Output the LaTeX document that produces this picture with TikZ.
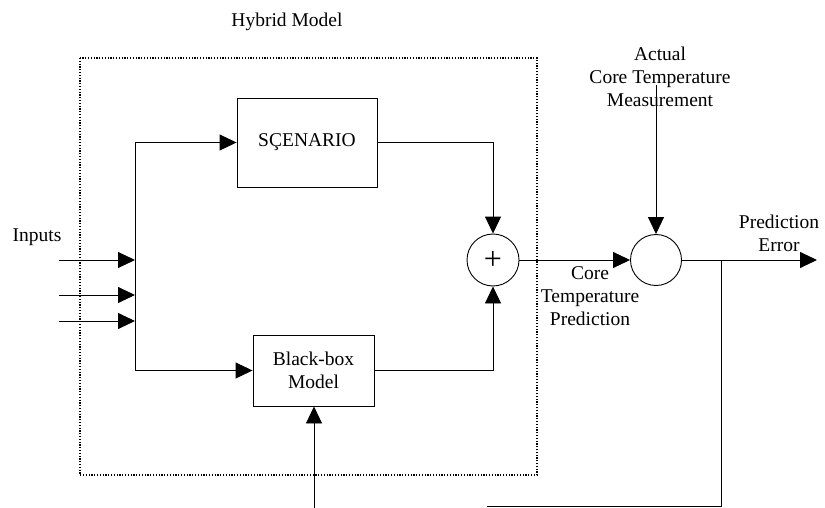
\documentclass[tikz,border=0pt]{standalone}
\usepackage{fontspec}
\setmainfont{Liberation Serif}
\usetikzlibrary{arrows.meta}
\begin{document}
\begin{tikzpicture}[x=1pt,y=-1pt,
  every node/.style={font=\fontsize{19.5}{23}\selectfont},
  wire/.style={line width=0.9pt},
  flow/.style={wire,-{Triangle[length=17pt,width=16pt]}},
  block/.style={draw,line width=0.9pt,inner sep=0pt},
  junction/.style={draw,circle,line width=0.9pt,inner sep=0pt,minimum size=52pt},
  frame/.style={line width=1.2pt,dash pattern=on 1.2pt off 1.6pt}]
\useasboundingbox (0,0) rectangle (825,508);

% hybrid model boundary
\draw[frame] (80,58) rectangle (537,475);
\node (hm) at (287,22) {Hybrid Model};

% blocks
\node[block,minimum width=140pt,minimum height=89pt] (scen) at (307,142.5) {SÇENARIO};
\node[block,minimum width=121pt,minimum height=71pt,align=center] (bb) at (313.5,370.5) {Black-box\\Model};
\node[junction] (sum) at (493,260) {\fontsize{32}{32}\selectfont +};
\node[junction,minimum size=51pt] (cmp) at (656,260) {};

% labels
\node (inp) at (37,237) {Inputs};
\node[align=center] (meas) at (660,77) {Actual\\Core Temperature\\Measurement};
\node[align=center] (pe) at (779,233) {Prediction\\Error};
\node[align=center] (ctp) at (590,296) {Core\\Temperature\\Prediction};

% inputs and distribution bus
\coordinate (in1) at (59,260);
\coordinate (in2) at (59,295);
\coordinate (in3) at (59,321);
\coordinate (b1) at (135,260);
\coordinate (b2) at (135,295);
\coordinate (b3) at (135,321);
\coordinate (btop) at (135,142.5);
\coordinate (bbot) at (135,370.5);
\draw[flow] (in1) -- (b1);
\draw[flow] (in2) -- (b2);
\draw[flow] (in3) -- (b3);
\draw[wire] (btop) -- (bbot);
\draw[flow] (btop) -- (scen.west);
\draw[flow] (bbot) -- (bb.west);

% model outputs into the summing junction
\draw[flow] (scen.east) -| (sum.north);
\draw[flow] (bb.east) -| (sum.south);

% prediction vs. measurement
\draw[flow] (sum.east) -- (cmp.west);
\coordinate (mtop) at (656,85);
\draw[flow] (mtop) -- (cmp.north);
\coordinate (out) at (817,260);
\draw[flow] (cmp.east) -- (out);

% error feedback
\coordinate (fb1) at (721,260);
\coordinate (fb2) at (721,506);
\coordinate (fb3) at (487,506);
\draw[wire] (fb1) -- (fb2) -- (fb3);
\coordinate (bin) at (314,508);
\draw[flow] (bin) -- (bin |- bb.south);
\end{tikzpicture}
\end{document}
